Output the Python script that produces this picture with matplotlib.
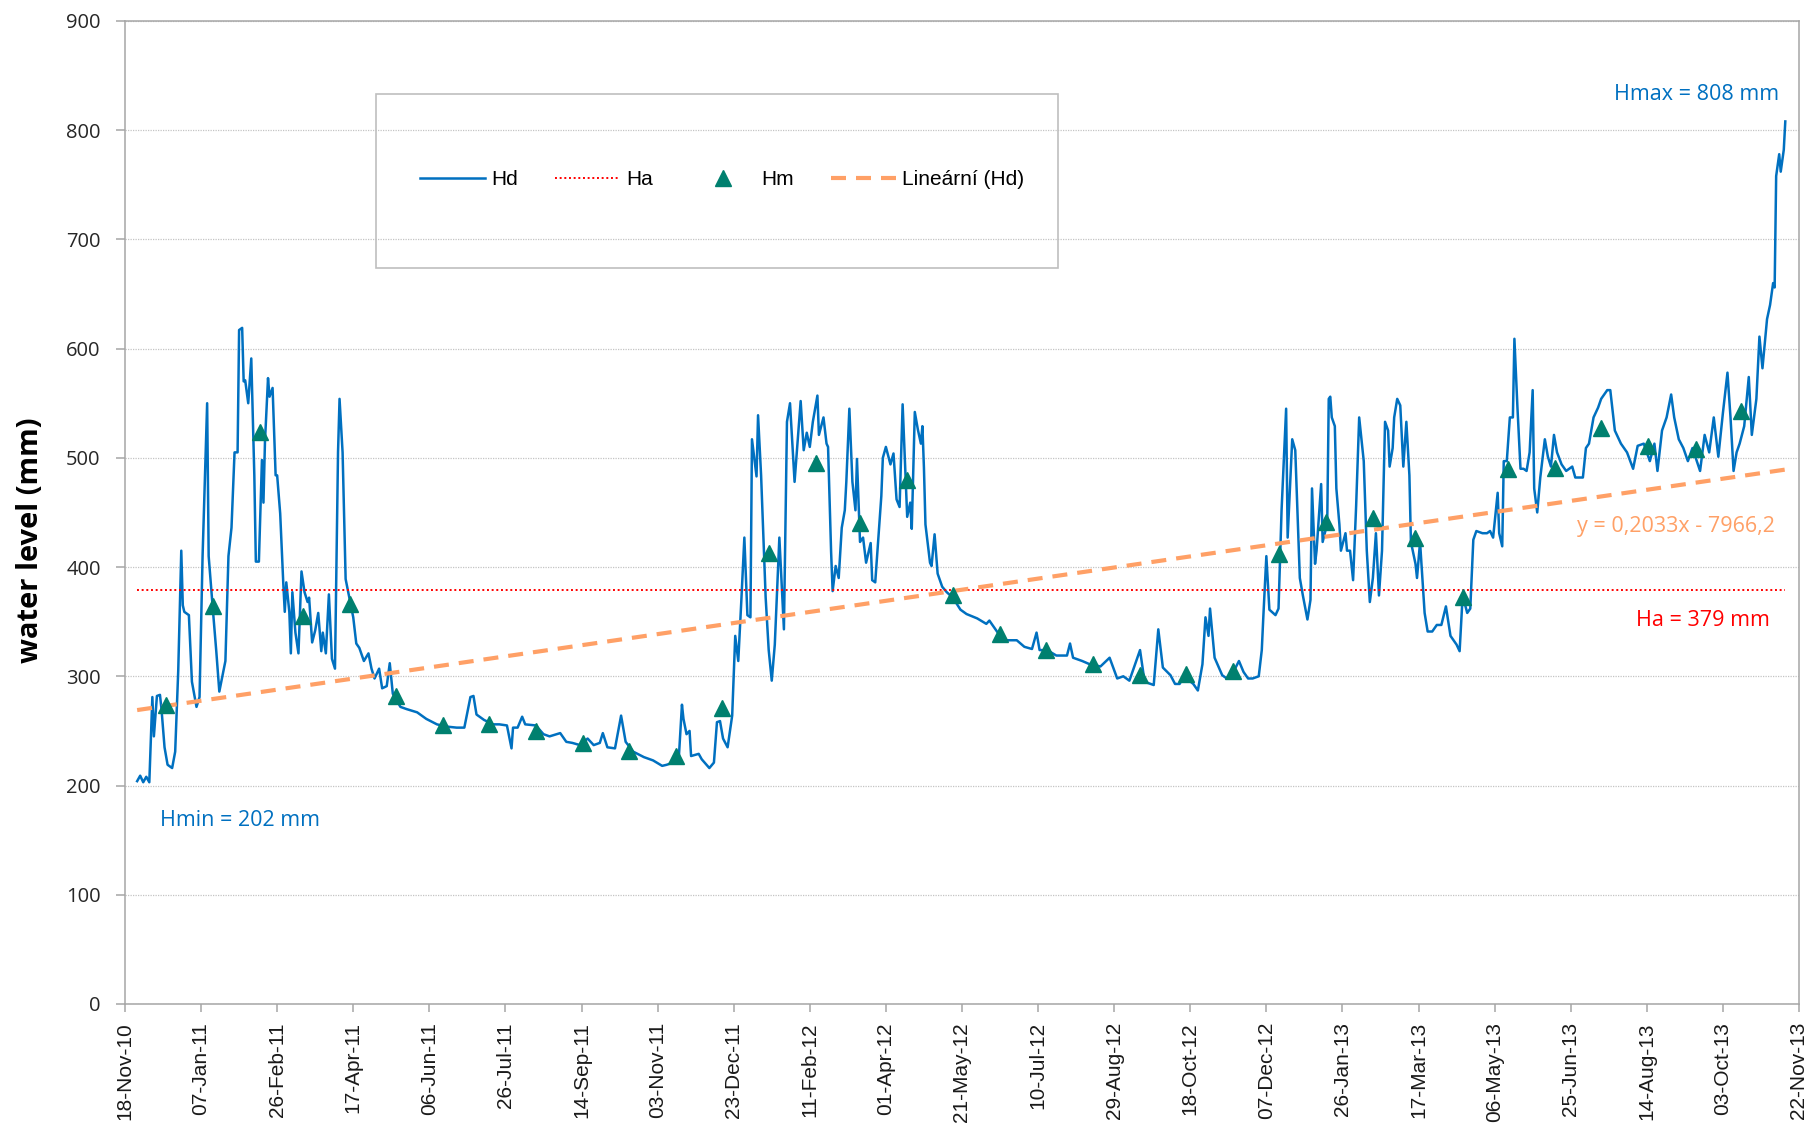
import numpy as np
import matplotlib.pyplot as plt
import matplotlib.dates as mdates
from matplotlib.patches import Rectangle

# daily water level Hd (days counted from 18-Nov-10)
start = np.datetime64('2010-11-18')
hd_day = [8, 10, 12, 14, 16, 18, 19, 21, 23, 24, 26, 28, 31, 33, 35, 37, 38, 39, 42, 44,
          47, 49, 51, 54, 55, 58, 60, 62, 66, 68, 70, 72, 74, 75, 77, 78, 79, 81, 83, 85,
          86, 88, 90, 91, 92, 94, 95, 97, 99, 100, 102, 104, 105, 106, 108, 109, 110, 112, 114, 116,
          118, 120, 121, 123, 125, 127, 129, 130, 132, 134, 136, 138, 140, 141, 143, 145, 147, 150, 152, 154,
          157, 160, 162, 164, 167, 169, 172, 174, 176, 181, 185, 192, 198, 205, 211, 218, 223, 227, 229, 231,
          236, 242, 246, 251, 254, 255, 258, 261, 263, 270, 275, 279, 286, 290, 294, 299, 304, 308, 312, 314,
          317, 322, 326, 329, 334, 341, 347, 353, 356, 360, 364, 366, 367, 369, 371, 372, 377, 379, 384, 387,
          389, 391, 393, 396, 399, 401, 403, 405, 407, 409, 411, 412, 415, 416, 418, 421, 423, 425, 427, 430,
          433, 435, 437, 440, 444, 446, 448, 450, 452, 455, 456, 459, 461, 462, 464, 465, 467, 469, 471, 473,
          474, 476, 478, 480, 481, 483, 485, 487, 490, 491, 493, 496, 497, 498, 500, 503, 505, 507, 509, 511,
          514, 516, 517, 519, 521, 523, 524, 525, 526, 529, 530, 532, 534, 537, 540, 544, 549, 553, 560, 566,
          568, 573, 578, 579, 586, 591, 596, 599, 601, 606, 612, 619, 621, 623, 629, 634, 641, 647, 652, 656,
          660, 667, 670, 676, 679, 682, 687, 690, 693, 696, 702, 705, 708, 710, 712, 713, 716, 721, 724, 728,
          732, 735, 738, 741, 745, 747, 748, 750, 752, 756, 758, 760, 763, 764, 767, 769, 772, 774, 777, 779,
          780, 782, 783, 785, 786, 787, 790, 791, 792, 793, 795, 796, 798, 799, 802, 803, 805, 807, 809, 811,
          814, 816, 818, 820, 822, 824, 826, 828, 830, 831, 833, 834, 836, 838, 840, 842, 844, 845, 848, 849,
          851, 854, 856, 859, 862, 865, 868, 871, 875, 877, 879, 882, 884, 886, 888, 892, 895, 897, 899, 902,
          903, 905, 906, 908, 910, 912, 913, 915, 917, 919, 921, 923, 925, 926, 928, 930, 933, 935, 937, 939,
          941, 944, 947, 951, 953, 958, 960, 962, 965, 968, 970, 974, 976, 979, 983, 987, 991, 994, 998, 1002,
          1005, 1007, 1010, 1013, 1016, 1018, 1021, 1024, 1027, 1030, 1035, 1038, 1041, 1044, 1047, 1050, 1053, 1055, 1057, 1059,
          1061, 1064, 1067, 1069, 1072, 1074, 1076, 1079, 1081, 1083, 1084, 1085, 1087, 1088, 1090, 1091]
hd_mm = [204, 209, 203, 208, 203, 281, 245, 282, 283, 270, 235, 219, 216, 231, 305, 415, 365, 359, 356, 295,
         272, 281, 410, 550, 410, 357, 323, 286, 314, 410, 436, 505, 505, 617, 619, 570, 571, 550, 591, 484,
         405, 405, 498, 459, 515, 573, 556, 564, 484, 484, 449, 386, 359, 386, 359, 321, 377, 340, 321, 396,
         377, 368, 372, 331, 342, 358, 323, 340, 321, 375, 316, 307, 505, 554, 505, 389, 375, 354, 330, 326,
         314, 321, 307, 298, 307, 289, 291, 312, 284, 272, 270, 267, 261, 256, 254, 253, 253, 281, 282, 265,
         260, 256, 256, 255, 234, 253, 253, 263, 256, 255, 247, 245, 248, 240, 239, 237, 243, 237, 239, 248,
         235, 234, 264, 240, 231, 226, 223, 218, 219, 221, 227, 274, 261, 247, 250, 227, 229, 224, 216, 221,
         258, 259, 243, 235, 264, 337, 314, 369, 427, 356, 354, 517, 483, 539, 484, 372, 324, 296, 329, 427,
         343, 533, 550, 478, 552, 507, 523, 510, 533, 557, 521, 537, 513, 510, 414, 378, 401, 390, 436, 452,
         478, 545, 478, 452, 499, 423, 427, 404, 422, 388, 386, 446, 465, 500, 510, 494, 504, 462, 455, 549,
         446, 459, 435, 542, 526, 513, 529, 491, 439, 404, 401, 430, 394, 382, 377, 372, 361, 357, 353, 348,
         351, 341, 332, 333, 333, 327, 325, 340, 324, 324, 319, 319, 330, 317, 314, 311, 309, 317, 298, 300,
         296, 324, 295, 292, 343, 308, 301, 293, 293, 300, 293, 287, 311, 354, 337, 362, 317, 301, 298, 303,
         314, 304, 298, 298, 300, 324, 354, 410, 361, 356, 362, 452, 545, 427, 517, 507, 390, 374, 352, 370,
         472, 403, 415, 456, 476, 423, 440, 554, 556, 537, 529, 472, 439, 415, 431, 415, 415, 388, 456, 537,
         497, 415, 368, 390, 431, 374, 415, 533, 525, 492, 509, 537, 554, 548, 492, 533, 484, 423, 403, 390,
         423, 358, 341, 341, 347, 347, 364, 337, 329, 323, 374, 358, 362, 425, 433, 431, 431, 433, 427, 468,
         431, 419, 497, 497, 537, 537, 609, 546, 490, 490, 488, 505, 562, 472, 450, 482, 517, 501, 492, 521,
         505, 494, 488, 492, 482, 482, 509, 513, 537, 546, 554, 562, 562, 525, 513, 505, 490, 511, 513, 497,
         513, 488, 525, 537, 558, 537, 517, 509, 497, 509, 488, 521, 505, 537, 501, 541, 578, 537, 488, 505,
         513, 529, 574, 521, 554, 611, 582, 627, 640, 660, 656, 758, 778, 762, 782, 808]

# monthly means Hm (Dec-10 .. Oct-13), plotted mid-month
hm_month = np.arange('2010-12', '2013-11', dtype='datetime64[M]')
hm_mm = [274, 364, 524, 355, 366, 282, 255, 256, 250, 239, 232, 227,
         271, 413, 495, 440, 480, 374, 339, 324, 311, 301, 302, 305,
         412, 441, 445, 427, 373, 490, 491, 527, 511, 508, 543]

ha_mm = 379                  # long-term average
trend_k, trend_q = 0.2033, -7966.2   # y = 0,2033x - 7966,2 (x = Excel date serial)
hmin_mm, hmax_mm = 202, 808
tick_step_days = 50

hd_dates = start + np.array(hd_day).astype('timedelta64[D]')
hm_dates = hm_month.astype('datetime64[D]') + np.timedelta64(14, 'D')
ends = np.array([hd_dates[0], hd_dates[-1]])
serial = (ends - np.datetime64('1899-12-30')).astype(int)
trend_mm = trend_k * serial + trend_q

fig = plt.figure(figsize=(18.19, 11.32), dpi=100)
ax = fig.add_axes([0.0687, 0.1131, 0.9203, 0.8684])

blue = '#0070C0'
orange = '#FFA066'
ax.plot(hd_dates, hd_mm, color=blue, lw=1.8, zorder=2, label='Hd')
ax.plot(ends, [ha_mm, ha_mm], color='#FF0000', lw=1.4, ls=(0, (1, 1.4)), zorder=3, label='Ha')
ax.plot(hm_dates, hm_mm, ls='none', marker='^', ms=12, color='#00806F', zorder=5, label='Hm')
ax.plot(ends, trend_mm, color=orange, lw=3, ls=(0, (3.6, 2.4)), zorder=4, label='Lineární (Hd)')

ax.set_ylim(0, 900)
ax.set_yticks(np.arange(0, 901, 100))
ax.set_xlim(start, start + np.timedelta64(1100, 'D'))
ax.set_xticks(start + np.arange(0, 1101, tick_step_days).astype('timedelta64[D]'))
ax.xaxis.set_major_formatter(mdates.DateFormatter('%d-%b-%y'))
ax.yaxis.grid(True, color='#C4C4C4', lw=0.9, ls=(0, (1, 1)))
ax.set_axisbelow(True)

for s in ax.spines.values():
    s.set_color('#A6A6A6')
    s.set_linewidth(1.1)
ax.tick_params(axis='both', colors='#A6A6A6', direction='out', width=1.1)
ax.tick_params(axis='y', length=6.5, pad=11, labelcolor='#262626', labelsize=14.5)
ax.tick_params(axis='x', length=6, pad=7, labelcolor='#1a1a1a', labelsize=15, rotation=90)
for lab in ax.get_yticklabels():
    lab.set_family('Open Sans')
for lab in ax.get_xticklabels():
    lab.set_family('Liberation Sans')

fig.text(0.017, 0.523, 'water level (mm)', rotation=90, ha='center', va='center',
         fontsize=21, fontweight='bold', family='Open Sans')

# annotations
def day(n):
    return start + np.timedelta64(n, 'D')

ax.text(day(1087), 833, f'Hmax = {hmax_mm} mm', color=blue, ha='right', va='center',
        fontsize=15.5, family='Open Sans')
ax.text(day(23), 168, f'Hmin = {hmin_mm} mm', color=blue, ha='left', va='center',
        fontsize=15.5, family='Open Sans')
ax.text(day(1081), 351, f'Ha = {ha_mm} mm', color='#FF0000', ha='right', va='center',
        fontsize=15.5, family='Open Sans')
ax.text(day(1084), 437, 'y = 0,2033x - 7966,2', color=orange, ha='right', va='center',
        fontsize=15.5, family='Open Sans')

# legend box (transparent, grid shows through)
fig.patches.append(Rectangle((0.2067, 0.7633), 0.3749, 0.1537, transform=fig.transFigure,
                             fill=False, edgecolor='#BFBFBF', lw=1.2))
fig.legend(*ax.get_legend_handles_labels(), loc='center', bbox_to_anchor=(0.397, 0.841),
           ncol=4, frameon=False, handlelength=3.1, handletextpad=0.3, columnspacing=1.8,
           prop={'family': 'Liberation Sans', 'size': 15})

fig.savefig('out.png', dpi=100)
